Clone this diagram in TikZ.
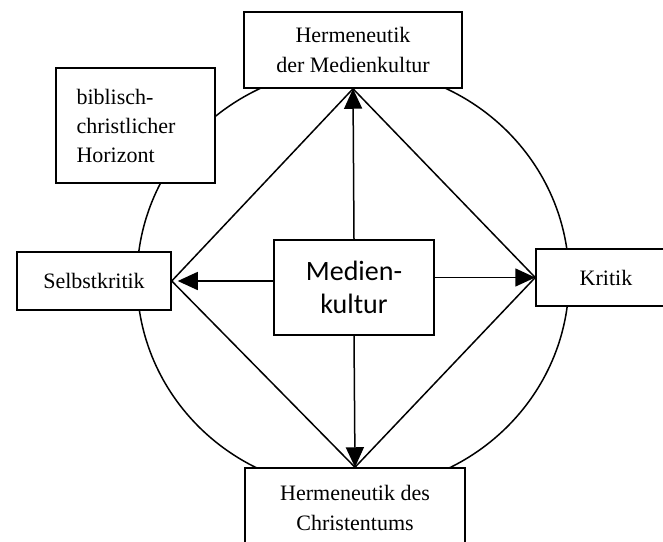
\documentclass[tikz,border=0pt]{standalone}
\usepackage{fontspec}
\setmainfont{Liberation Serif}
\newfontfamily\calfont{Carlito}
\usetikzlibrary{arrows.meta}
\begin{document}
\begin{tikzpicture}[x=1pt,y=-1pt,line width=1.5pt,
  box/.style={draw,fill=white,align=center,inner sep=0pt,font=\fontsize{22}{30}\selectfont},
  arr/.style={-{Triangle[length=20pt,width=18pt]}}]
\useasboundingbox (0,0) rectangle (663,541);
\draw (353,279) ellipse [x radius=216,y radius=211];

\node [box,minimum width=218,minimum height=76] (herm) at (353,50) {Hermeneutik\\der Medienkultur};
\node [box,minimum width=159,minimum height=115,text width=118,align=left,font=\fontsize{22}{29}\selectfont] (bib) at (135.5,125.5) {biblisch-\\christlicher\\Horizont};
\node [box,minimum width=154,minimum height=58] (selbst) at (94,281) {Selbstkritik};
\node [box,minimum width=140,minimum height=57] (krit) at (606,277.5) {Kritik};
\node [box,minimum width=220,minimum height=80] (christ) at (355,508) {Hermeneutik des\\Christentums};
\node [box,minimum width=160,minimum height=95,font=\calfont\fontsize{28}{33}\selectfont] (med) at (354,287.5) {Medien-\\kultur};

% Raute
\draw (herm.south) -- (selbst.east) -- (christ.north) -- (krit.west) -- cycle;
\draw [arr] (med.north) -- (herm.south);
\draw [arr] (med.west |- selbst.east) -- ([xshift=6pt]selbst.east);
\draw [arr] (med.east |- krit.west) -- (krit.west);
\draw [arr] (med.south) -- (christ.north);
\end{tikzpicture}
\end{document}
